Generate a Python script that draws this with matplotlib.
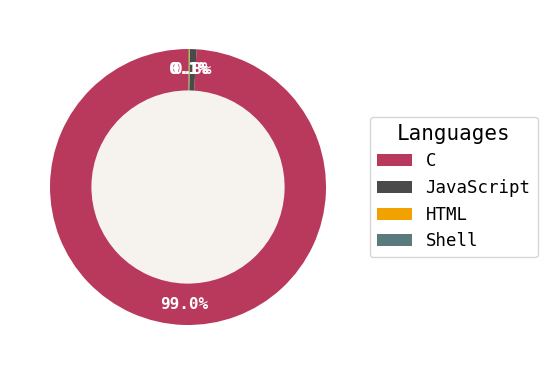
import matplotlib.pyplot as plt
from matplotlib.patches import Circle

plt.rcParams['font.family'] = ['DejaVu Sans Mono']

# 언어 비율 데이터
languages = ['C', 'JavaScript', 'HTML', 'Shell']
shares = [99.0, 0.8, 0.1, 0.1]
colors = ['#b8395b', '#4a4a4a', '#f2a200', '#5a7b7c']

fig = plt.figure(figsize=(5.52, 3.76), dpi=100)
ax = fig.add_axes([0.0906, 0.1356, 0.5, 0.734])

wedges, texts, autotexts = ax.pie(shares, colors=colors, startangle=90,
                                  autopct='%1.1f%%', pctdistance=0.855,
                                  wedgeprops=dict(width=0.3),
                                  textprops=dict(color='white', fontsize=11.5, fontweight='bold'))

# 가운데 원
ax.add_patch(Circle((0, 0), 0.7, color='#f6f3ef', zorder=0))
ax.set_xlim(-1, 1)
ax.set_ylim(-1, 1)
ax.set_aspect('auto')

fig.legend(wedges, languages, title='Languages', loc='center left',
           bbox_to_anchor=(370 / 552, 1 - 187 / 376), borderaxespad=0,
           fontsize=12.5, title_fontsize=15)

plt.savefig('out.png')
